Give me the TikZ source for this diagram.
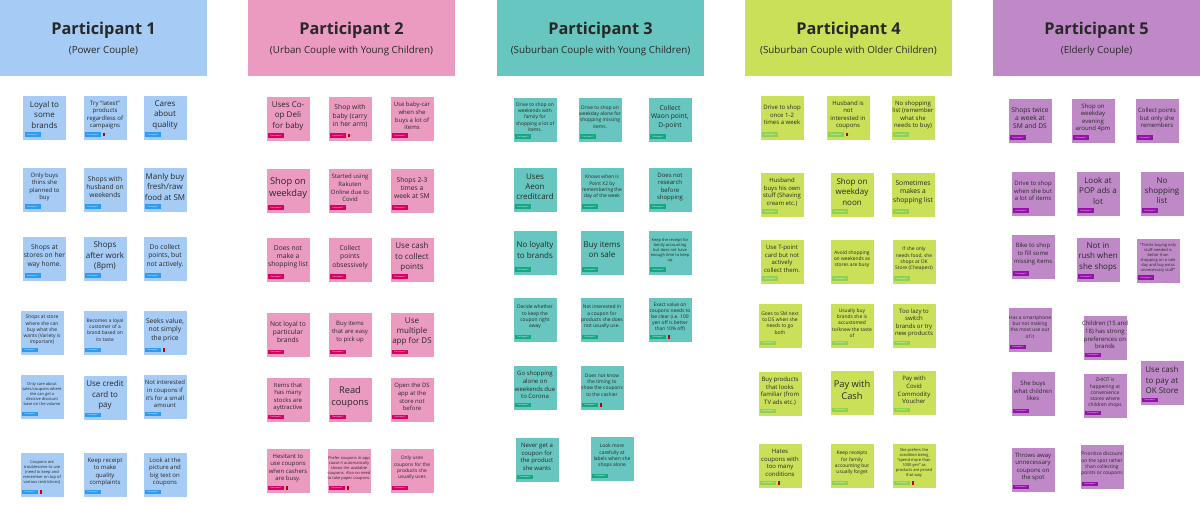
\documentclass[tikz,border=0pt]{standalone}
\usepackage{fontspec}
\setmainfont{Open Sans}
\definecolor{pcol1}{RGB}{166,204,245}
\definecolor{pcol2}{RGB}{236,155,192}
\definecolor{pcol3}{RGB}{103,199,192}
\definecolor{pcol4}{RGB}{202,224,88}
\definecolor{pcol5}{RGB}{191,137,200}
\definecolor{tcol1}{RGB}{45,155,240}
\definecolor{tcol2}{RGB}{218,0,99}
\definecolor{tcol3}{RGB}{20,168,130}
\definecolor{tcol4}{RGB}{143,209,79}
\definecolor{tcol5}{RGB}{150,16,172}
\definecolor{ink}{RGB}{40,40,40}
\begin{document}
\begin{tikzpicture}[x=1pt,y=-1pt,
  head/.style={minimum width=207pt,minimum height=76pt,inner sep=0pt,fill=pcol#1},
  ttl/.style={text=ink,font=\fontsize{16.3}{18}\selectfont\bfseries},
  subttl/.style={text=ink,font=\fontsize{9.8}{11}\selectfont},
  note/.style={minimum width=43pt,minimum height=44pt,inner sep=0pt,fill=pcol#1},
  txt/.style={align=center,inner sep=0pt,text=ink},
  tag/.style={anchor=south west,minimum width=16pt,minimum height=4.5pt,inner sep=0pt,
    fill=tcol#1,text=white,font=\fontsize{1.9}{2}\selectfont},
  flag/.style={anchor=west,minimum width=2pt,minimum height=3.5pt,inner sep=0pt,fill=red!75!black,
    label={[text=gray,inner sep=0.6pt,font=\fontsize{2.4}{2.4}\selectfont]right:1}},
  szs/.style={font=\fontsize{9.3}{11.7}\selectfont},
  sza/.style={font=\fontsize{8}{10.1}\selectfont},
  szb/.style={font=\fontsize{6.7}{8.4}\selectfont},
  szc/.style={font=\fontsize{6}{7.6}\selectfont},
  szd/.style={font=\fontsize{4.9}{6.2}\selectfont},
  sze/.style={font=\fontsize{4}{5}\selectfont}]
\useasboundingbox (0,0) rectangle (1200,505);

\foreach \i/\x/\sub in {1/103.5/{Power Couple},2/351.5/{Urban Couple with Young Children},
    3/600.5/{Suburban Couple with Young Children},4/848.5/{Suburban Couple with Older Children},
    5/1096.5/{Elderly Couple}}{
  \node[head=\i] (h\i) at (\x,38) {};
  \node[ttl] (h\i-t) at (\x,30) {Participant \i};
  \node[subttl] (h\i-s) at (\x,51) {(\sub)};
}

\foreach \nm/\x/\y/\fs/\ic/\txt in {
    a1/44.5/118/sza/0/{Loyal to\\some\\brands},
    a2/105/118/szc/1/{Try ``latest''\\products\\regardless of\\campaigns},
    a3/165/118/sza/0/{Cares\\about\\quality},
    a4/44.5/190/szc/0/{Only buys\\thins she\\planned to\\buy},
    a5/105/190/szb/0/{Shops with\\husband on\\weekends},
    a6/165/190/sza/0/{Manly buy\\fresh/raw\\food at SM},
    a7/44.5/259/szb/0/{Shops at\\stores on her\\way home.},
    a8/105/259/sza/0/{Shops\\after work\\(8pm)},
    a9/165/259/szb/0/{Do collect\\points, but\\not actively.},
    a10/42/333/szd/0/{Shops at store\\where she can\\buy what she\\wants (Variety is\\important)},
    a11/105/333/szd/0/{Becomes a loyal\\customer of a\\brand based on\\its taste},
    a12/165/333/szb/1/{Seeks value,\\not simply\\the price},
    a13/42/397/sze/0/{Only care about\\sales/coupons where\\she can get a\\decisive discount\\base on the volume},
    a14/105/398/sza/0/{Use credit\\card to\\pay},
    a15/165/397/szc/0/{Not interested\\in coupons if\\it's for a small\\amount},
    a16/42/475/sze/1/{Coupons are\\troublesome to use\\(need to keep and\\remember on top of\\various restrictions)},
    a17/105/475/szc/0/{Keep receipt\\to make\\quality\\complaints},
    a18/165/475/szc/0/{Look at the\\picture and\\big text on\\coupons}}{
  \node[note=1] (\nm) at (\x,\y) {};
  \node[txt,\fs] (\nm-t) at ([yshift=3pt]\nm.center) {\txt};
  \node[tag=1] (\nm-g) at ([xshift=1.5pt,yshift=3pt]\nm.south west) {Participant 1};
  \ifnum\ic=1\relax \node[flag] (\nm-f) at ([xshift=1.5pt]\nm-g.east) {}; \fi
}

\foreach \nm/\x/\y/\fs/\ic/\txt in {
    b1/288/119/sza/0/{Uses Co-\\op Deli\\for baby},
    b2/350/119/szb/1/{Shop with\\baby (carry\\in her arm)},
    b3/412/119/szc/0/{Use baby-car\\when she\\buys a lot of\\items},
    b4/288/191/szs/0/{Shop on\\weekday},
    b5/350/191/szc/0/{Started using\\Rakuten\\Online due to\\Covid},
    b6/412/191/szb/0/{Shops 2-3\\times a\\week at SM},
    b7/288/260/szb/0/{Does not\\make a\\shopping list},
    b8/350/260/szb/0/{Collect\\points\\obsessively},
    b9/412/260/sza/0/{Use cash\\to collect\\points},
    b10/288/335/szb/0/{Not loyal to\\particular\\brands},
    b11/350/335/szc/0/{Buy items\\that are easy\\to pick up},
    b12/412/335/sza/0/{Use\\multiple\\app for DS},
    b13/288/400/szc/0/{Items that\\has many\\stocks are\\ayttractive},
    b14/350/400/szs/0/{Read\\coupons},
    b15/412/400/szc/0/{Open the DS\\app at the\\store not\\before},
    b16/288/471/szc/1/{Hesitant to\\use coupons\\when cashers\\are busy.},
    b17/349/471/sze/1/{Prefer coupons in-app\\cause it automatically\\shows the available\\coupons. Also no need\\to take paper coupons.},
    b18/412/471/szd/0/{Only uses\\coupons for the\\products she\\usually uses}}{
  \node[note=2] (\nm) at (\x,\y) {};
  \node[txt,\fs] (\nm-t) at ([yshift=3pt]\nm.center) {\txt};
  \node[tag=2] (\nm-g) at ([xshift=1.5pt,yshift=3pt]\nm.south west) {Participant 2};
  \ifnum\ic=1\relax \node[flag] (\nm-f) at ([xshift=1.5pt]\nm-g.east) {}; \fi
}

\foreach \nm/\x/\y/\fs/\ic/\txt in {
    c1/535/120/szd/0/{Drive to shop on\\weekends with\\family for\\shopping a lot of\\items.},
    c2/600/120/szd/0/{Drive to shop on\\weekday alone for\\shopping missing\\items.},
    c3/670/120/szb/0/{Collect\\Waon point,\\D-point},
    c4/535/190/sza/0/{Uses\\Aeon\\creditcard},
    c5/602/190/szd/0/{Knows when is\\Point X2 by\\remembering the\\day of the week},
    c6/670/190/szc/0/{Does not\\research\\before\\shopping},
    c7/535/253/sza/0/{No loyalty\\to brands},
    c8/602/253/sza/0/{Buy items\\on sale},
    c9/670/253/sze/0/{Keep the receipt for\\family accounting\\but does not have\\enough time to keep\\up},
    c10/535/320/szd/0/{Decide whether\\to keep the\\coupon right\\away},
    c11/602/320/szd/0/{Not interested in\\a coupon for\\products she does\\not usually use.},
    c12/670/320/szd/1/{Exact value on\\coupons needs to\\be clear (i.e. 100\\yen off is better\\than 10\% off)},
    c13/535/388/szc/0/{Go shopping\\alone on\\weekends due\\to Corona},
    c14/602/388/szd/1/{Does not know\\the timing to\\show the coupons\\to the cashier},
    c15/537/460/szc/0/{Never get a\\coupon for\\the product\\she wants},
    c16/612/459/szd/0/{Look more\\carefully at\\labels when she\\shops alone}}{
  \node[note=3] (\nm) at (\x,\y) {};
  \node[txt,\fs] (\nm-t) at ([yshift=3pt]\nm.center) {\txt};
  \node[tag=3] (\nm-g) at ([xshift=1.5pt,yshift=3pt]\nm.south west) {Participant 3};
  \ifnum\ic=1\relax \node[flag] (\nm-f) at ([xshift=1.5pt]\nm-g.east) {}; \fi
}

\foreach \nm/\x/\y/\fs/\ic/\txt in {
    d1/782/118/szc/0/{Drive to shop\\once 1-2\\times a week},
    d2/848/118/szc/1/{Husband is\\not\\interested in\\coupons},
    d3/913/118/szc/0/{No shopping\\list (remember\\what she\\needs to buy)},
    d4/782/195/szc/0/{Husband\\buys his own\\stuff (Shaving\\cream etc.)},
    d5/852/195/sza/0/{Shop on\\weekday\\noon},
    d6/913/195/szb/0/{Sometimes\\makes a\\shopping list},
    d7/782/262/szc/0/{Use T-point\\card but not\\actively\\collect them.},
    d8/852/262/szd/0/{Avoid shopping\\on weekends as\\stores are busy},
    d9/914/262/szd/0/{If she only\\needs food, she\\shops at OK\\Store (Cheapest)},
    d10/780/326/szd/0/{Goes to SM next\\to DS when she\\needs to go\\both},
    d11/852/326/szd/0/{Usually buy\\brands she is\\accustomed\\to/knew the taste\\of},
    d12/914/326/szc/0/{Too lazy to\\switch\\brands or try\\new products},
    d13/780/394/szc/0/{Buy products\\that looks\\familiar (from\\TV ads etc.)},
    d14/852/393/szs/0/{Pay with\\Cash},
    d15/914/393/szc/0/{Pay with\\Covid\\Commodity\\Voucher},
    d16/780/466/szc/1/{Hates\\coupons with\\too many\\conditions},
    d17/852/466/szd/0/{Keep receipts\\for family\\accounting but\\usually forget},
    d18/914/466/sze/1/{She prefers the\\condition being\\``spend more than\\1000 yen'' as\\products are priced\\that way}}{
  \node[note=4] (\nm) at (\x,\y) {};
  \node[txt,\fs] (\nm-t) at ([yshift=3pt]\nm.center) {\txt};
  \node[tag=4] (\nm-g) at ([xshift=1.5pt,yshift=3pt]\nm.south west) {Participant 4};
  \ifnum\ic=1\relax \node[flag] (\nm-f) at ([xshift=1.5pt]\nm-g.east) {}; \fi
}

\foreach \nm/\x/\y/\fs/\ic/\txt in {
    e1/1030/121/szb/0/{Shops twice\\a week at\\SM and DS},
    e2/1093/121/szc/0/{Shop on\\weekday\\evening\\around 4pm},
    e3/1157/121/szc/0/{Collect points\\but only she\\remembers},
    e4/1033/194/szc/0/{Drive to shop\\when she but\\a lot of items},
    e5/1098/194/sza/0/{Look at\\POP ads a\\lot},
    e6/1162/194/sza/0/{No\\shopping\\list},
    e7/1033/257/szc/0/{Bike to shop\\to fill some\\missing items},
    e8/1098/260/sza/0/{Not in\\rush when\\she shops},
    e9/1158/261/sze/0/{``Thinks buying only\\stuff needed is\\better than\\shopping on a sale\\day and buy extra\\unnecessary stuff''},
    e10/1030/330/szd/0/{Has a smartphone\\but not making\\the most use out\\of it},
    e11/1105/338/szc/0/{Children (15 and\\18) has strong\\preferences on\\brands},
    e12/1033/394/szc/0/{She buys\\what children\\likes},
    e13/1105/396/szd/0/{ZHIOT is\\happening at\\convenience\\stores where\\children shops},
    e14/1162/383/sza/0/{Use cash\\to pay at\\OK Store},
    e15/1033/470/szc/0/{Throws away\\unnecessary\\coupons on\\the spot},
    e16/1102/467/szd/0/{Prioritize discount\\on the spot rather\\than collecting\\points or coupons}}{
  \node[note=5] (\nm) at (\x,\y) {};
  \node[txt,\fs] (\nm-t) at ([yshift=3pt]\nm.center) {\txt};
  \node[tag=5] (\nm-g) at ([xshift=1.5pt,yshift=3pt]\nm.south west) {Participant 5};
  \ifnum\ic=1\relax \node[flag] (\nm-f) at ([xshift=1.5pt]\nm-g.east) {}; \fi
}
\end{tikzpicture}
\end{document}
